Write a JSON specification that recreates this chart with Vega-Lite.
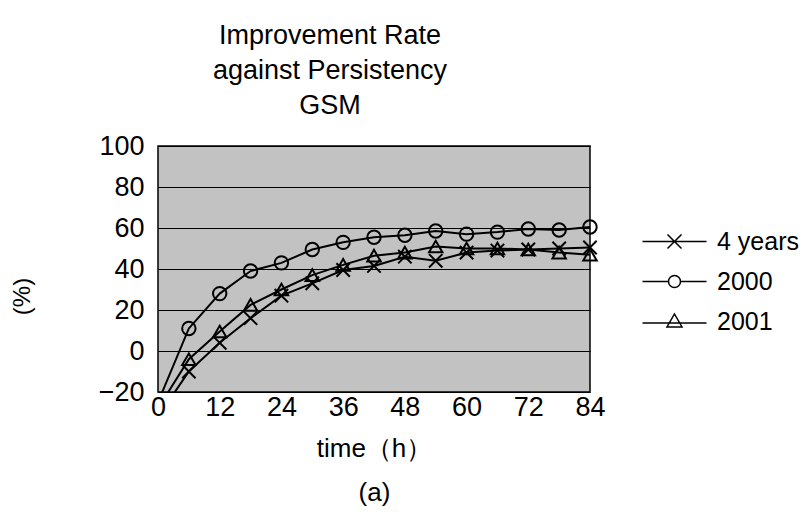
{
  "$schema": "https://vega.github.io/schema/vega-lite/v6.json",
  "width": 432,
  "height": 246,
  "autosize": "none",
  "padding": {"left": 158, "top": 146, "right": 214, "bottom": 122},
  "background": "white",
  "config": {
    "font": "Liberation Sans",
    "view": {"fill": "#c2c2c2", "stroke": "black", "strokeWidth": 1.5}
  },
  "title": {
    "text": ["Improvement Rate", "against Persistency", "GSM"],
    "font": "Liberation Sans",
    "fontSize": 27,
    "fontWeight": "normal",
    "lineHeight": 35,
    "anchor": "middle",
    "dx": -44,
    "offset": 12,
    "color": "black"
  },
  "data": {
    "values": [
      {"series": "4 years", "time": 0, "value": -32},
      {"series": "4 years", "time": 6, "value": -10},
      {"series": "4 years", "time": 12, "value": 4},
      {"series": "4 years", "time": 18, "value": 16},
      {"series": "4 years", "time": 24, "value": 27},
      {"series": "4 years", "time": 30, "value": 33},
      {"series": "4 years", "time": 36, "value": 39.5},
      {"series": "4 years", "time": 42, "value": 41.5},
      {"series": "4 years", "time": 48, "value": 46},
      {"series": "4 years", "time": 54, "value": 44},
      {"series": "4 years", "time": 60, "value": 48},
      {"series": "4 years", "time": 66, "value": 49},
      {"series": "4 years", "time": 72, "value": 49.5},
      {"series": "4 years", "time": 78, "value": 50},
      {"series": "4 years", "time": 84, "value": 50.5},
      {"series": "2000", "time": 0, "value": -25},
      {"series": "2000", "time": 6, "value": 11},
      {"series": "2000", "time": 12, "value": 28},
      {"series": "2000", "time": 18, "value": 39},
      {"series": "2000", "time": 24, "value": 43},
      {"series": "2000", "time": 30, "value": 49.5},
      {"series": "2000", "time": 36, "value": 53},
      {"series": "2000", "time": 42, "value": 55.5},
      {"series": "2000", "time": 48, "value": 56.5},
      {"series": "2000", "time": 54, "value": 58.5},
      {"series": "2000", "time": 60, "value": 57},
      {"series": "2000", "time": 66, "value": 58},
      {"series": "2000", "time": 72, "value": 59.5},
      {"series": "2000", "time": 78, "value": 59},
      {"series": "2000", "time": 84, "value": 60.5},
      {"series": "2001", "time": 0, "value": -28},
      {"series": "2001", "time": 6, "value": -4},
      {"series": "2001", "time": 12, "value": 9.5},
      {"series": "2001", "time": 18, "value": 22.5},
      {"series": "2001", "time": 24, "value": 30},
      {"series": "2001", "time": 30, "value": 37},
      {"series": "2001", "time": 36, "value": 42},
      {"series": "2001", "time": 42, "value": 46.5},
      {"series": "2001", "time": 48, "value": 48},
      {"series": "2001", "time": 54, "value": 51},
      {"series": "2001", "time": 60, "value": 50},
      {"series": "2001", "time": 66, "value": 50},
      {"series": "2001", "time": 72, "value": 49.5},
      {"series": "2001", "time": 78, "value": 48},
      {"series": "2001", "time": 84, "value": 47}
    ]
  },
  "encoding": {
    "x": {
      "field": "time",
      "type": "quantitative",
      "scale": {"domain": [0, 84], "nice": false, "zero": false},
      "axis": {
        "values": [0, 12, 24, 36, 48, 60, 72, 84],
        "grid": false,
        "ticks": false,
        "domain": false,
        "labelFlush": false,
        "labelFontSize": 27,
        "labelColor": "black",
        "labelPadding": 2,
        "title": ["time（h）", "(a)"],
        "titleFontSize": 26,
        "titleFontWeight": "normal",
        "titleColor": "black",
        "titleLineHeight": 44,
        "titlePadding": 15
      }
    },
    "y": {
      "field": "value",
      "type": "quantitative",
      "scale": {"domain": [-20, 100], "nice": false, "zero": false},
      "axis": {
        "values": [-20, 0, 20, 40, 60, 80, 100],
        "grid": true,
        "gridColor": "black",
        "gridWidth": 1,
        "gridOpacity": 1,
        "ticks": false,
        "domain": false,
        "labelFontSize": 27,
        "labelColor": "black",
        "labelPadding": 14,
        "title": "(%)",
        "titleFontSize": 24,
        "titleFontWeight": "normal",
        "titleColor": "black",
        "titleAngle": -90,
        "titleX": -136,
        "titleY": 150,
        "titleAlign": "center",
        "titleBaseline": "middle"
      }
    }
  },
  "layer": [
    {
      "mark": {"type": "line", "color": "black", "strokeWidth": 2, "clip": true},
      "encoding": {"detail": {"field": "series"}}
    },
    {
      "transform": [{"filter": "datum.time > 0"}],
      "mark": {"type": "point", "filled": false, "stroke": "black", "strokeWidth": 2, "opacity": 1, "size": 180},
      "encoding": {
        "shape": {
          "field": "series",
          "type": "nominal",
          "scale": {
            "domain": ["4 years", "2000", "2001"],
            "range": ["M-1,-1L1,1M-1,1L1,-1", "circle", "triangle-up"]
          },
          "legend": null
        }
      }
    },
    {
      "transform": [{"filter": "datum.time > 0"}],
      "mark": {"type": "point", "filled": false, "stroke": "black", "strokeWidth": 1.5, "opacity": 0, "size": 400},
      "encoding": {
        "shape": {
          "field": "series",
          "type": "nominal",
          "scale": {
            "domain": ["4 years", "2000", "2001"],
            "range": [
              "M-3.2,0H3.2M-0.7,-0.7L0.7,0.7M-0.7,0.7L0.7,-0.7",
              "M-3.2,0H-0.6M0.6,0H3.2M0.6,0A0.6,0.6,0,1,1,-0.6,0A0.6,0.6,0,1,1,0.6,0",
              "M-3.2,0.15H3.2M0,-0.75L0.75,0.55L-0.75,0.55Z"
            ]
          },
          "legend": {
            "title": null,
            "orient": "none",
            "legendX": 504,
            "legendY": 83,
            "padding": 0,
            "symbolSize": 400,
            "symbolStrokeWidth": 1.5,
            "symbolStrokeColor": "black",
            "symbolFillColor": "transparent",
            "symbolOpacity": 1,
            "labelOffset": 30,
            "labelFontSize": 25,
            "labelColor": "black",
            "rowPadding": 14
          }
        }
      }
    }
  ],
  "resolve": {"scale": {"shape": "independent"}, "legend": {"shape": "independent"}}
}
